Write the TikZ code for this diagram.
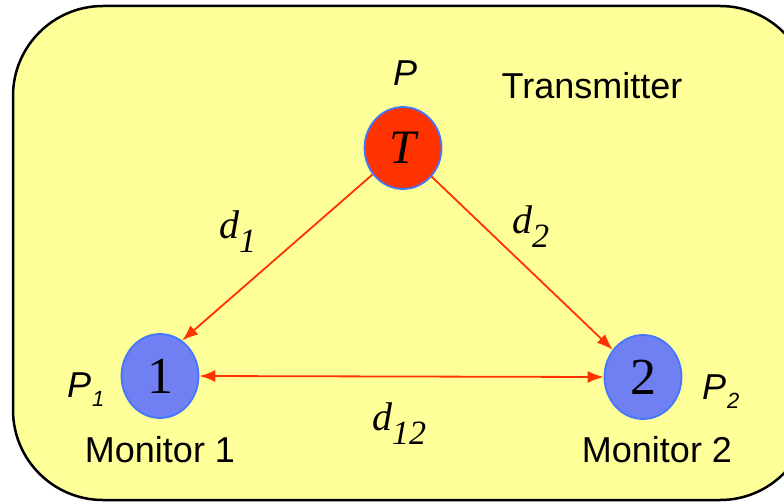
\documentclass[tikz,border=0pt]{standalone}
\usepackage{fontspec}
\setmainfont{Liberation Serif}
\newfontfamily\arialfont{Liberation Sans}
\usetikzlibrary{shapes.geometric,arrows.meta}
\definecolor{boxyellow}{HTML}{FFFF99}
\definecolor{tred}{HTML}{FF3300}
\definecolor{mblue}{HTML}{7080F2}
\definecolor{bblue}{HTML}{4477FF}
\definecolor{arrred}{HTML}{FF3300}
\tikzset{
  station/.style={ellipse, draw=bblue, line width=1.8pt, minimum width=77pt, minimum height=82pt, inner sep=0pt},
  sanslabel/.style={font=\arialfont\fontsize{36}{40}\selectfont, inner sep=0pt, anchor=base},
  plabel/.style={font=\arialfont\itshape\fontsize{36}{40}\selectfont, inner sep=0pt, anchor=base west},
  dlabel/.style={font=\itshape\fontsize{40}{40}\selectfont, inner sep=0pt, anchor=base west},
  link/.style={draw=arrred, line width=1.8pt, -{Latex[length=16pt,width=12pt]}},
}
\newcommand{\subsans}[1]{\raisebox{-9pt}{\fontsize{22}{22}\selectfont #1}}
\newcommand{\subser}[1]{\raisebox{-14pt}{\fontsize{34}{34}\selectfont #1}}
\begin{document}
\begin{tikzpicture}[x=1pt,y=1pt]
\useasboundingbox (0,0) rectangle (784,-503);
\begin{scope}
\clip (0,0) rectangle (784,-503);
\draw[fill=boxyellow, line width=2.5pt, rounded corners=90pt] (13,-6) rectangle (810,-500);
\end{scope}
\node[station, fill=tred] (T) at (403,-148) {\fontsize{48}{48}\selectfont\itshape T};
\node[station, fill=mblue, minimum height=84pt] (m1) at (160,-376) {\fontsize{52}{52}\selectfont 1};
\node[station, fill=mblue, minimum height=84pt] (m2) at (643,-377) {\fontsize{52}{52}\selectfont 2};
\draw[link] (T.221) -- (m1.58);
\draw[link] (T.315) -- (m2.138);
\draw[link, {Latex[length=16pt,width=12pt]}-{Latex[length=16pt,width=12pt]}] (m1.east) -- (m2.west);
\node[plabel] (pT) at (393,-85) {P};
\node[plabel] (p1) at (67,-397) {P\kern1pt\subsans{1}};
\node[plabel] (p2) at (702,-399) {P\kern1pt\subsans{2}};
\node[sanslabel] (tx) at (592,-99) {Transmitter};
\node[sanslabel] (mon1) at (160,-462) {Monitor 1};
\node[sanslabel] (mon2) at (657,-462) {Monitor 2};
\node[dlabel] (d1) at (219,-238) {d\subser{1}};
\node[dlabel] (d2) at (512,-233) {d\subser{2}};
\node[dlabel] (d12) at (372,-430) {d\subser{12}};
\end{tikzpicture}
\end{document}
